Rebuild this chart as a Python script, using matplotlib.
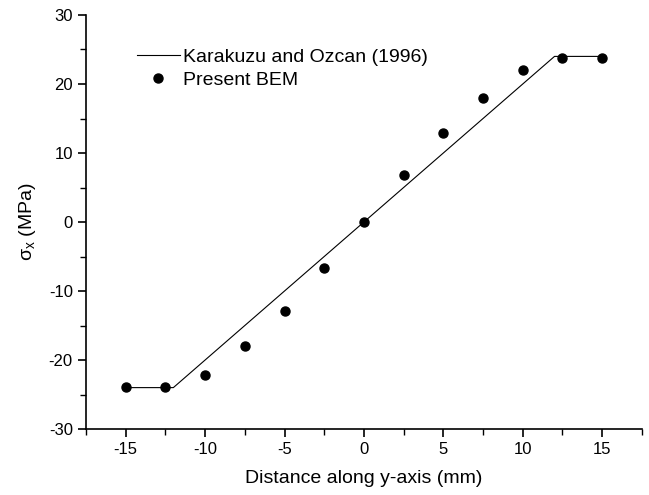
import numpy as np
import matplotlib
matplotlib.use("Agg")
import matplotlib.pyplot as plt
from matplotlib.ticker import MultipleLocator

plt.rcParams['font.family'] = ['Liberation Sans', 'DejaVu Sans']
plt.rcParams['axes.unicode_minus'] = False
plt.rcParams['mathtext.fontset'] = 'custom'
plt.rcParams['mathtext.rm'] = 'Liberation Sans'

# Karakuzu and Ozcan (1996) reference curve
ref_x = [-15, -12, 12, 15]
ref_y = [-24, -24, 24, 24]

# Present BEM results
bem_x = [-15, -12.5, -10, -7.5, -5, -2.5, 0, 2.5, 5, 7.5, 10, 12.5, 15]
bem_y = [-23.9, -23.9, -22.1, -18.0, -12.9, -6.7, 0.0, 6.8, 12.9, 18.0, 22.1, 23.8, 23.8]

fig = plt.figure(figsize=(6.49, 4.95), dpi=100)
ax = fig.add_axes([0.1325, 0.1333, 0.8565, 0.8364])

ax.plot(ref_x, ref_y, color="black", linewidth=0.8, label="Karakuzu and Ozcan (1996)")
ax.plot(bem_x, bem_y, linestyle="none", marker="o", markersize=6.5,
        color="black", label="Present BEM")

ax.set_xlim(-17.5, 17.5)
ax.set_ylim(-30, 30)
ax.xaxis.set_major_locator(MultipleLocator(5))
ax.xaxis.set_minor_locator(MultipleLocator(2.5))
ax.yaxis.set_major_locator(MultipleLocator(10))
ax.yaxis.set_minor_locator(MultipleLocator(5))

ax.spines["top"].set_visible(False)
ax.spines["right"].set_visible(False)
for s in ["left", "bottom"]:
    ax.spines[s].set_linewidth(1.2)

ax.tick_params(which="major", direction="out", length=6, width=1.2, labelsize=12)
ax.tick_params(which="minor", direction="out", length=4, width=1.0)

ax.set_xlabel("Distance along y-axis (mm)", fontsize=14, labelpad=9)
ax.set_ylabel(r"$\mathrm{\sigma_x}$ (MPa)", fontsize=14, labelpad=8)

ax.legend(loc="upper left", bbox_to_anchor=(0.06, 0.962), frameon=False,
          fontsize=14, handlelength=2.2, handletextpad=0.15, labelspacing=0.3)

fig.savefig("out.png", dpi=100)
